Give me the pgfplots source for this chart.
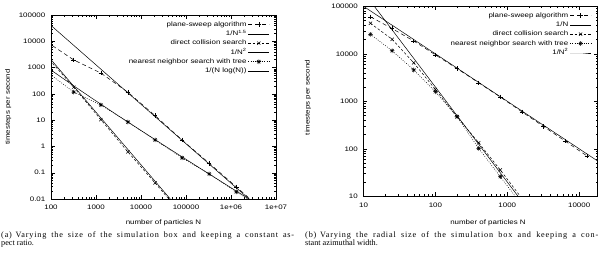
\documentclass[border=0pt]{standalone}
\usepackage{fontspec}
\setmainfont{Liberation Serif}
\newfontfamily\gfont[FakeStretch=1.22]{Liberation Sans}
\newfontfamily\cfont{Liberation Serif}
\usepackage{pgfplots}
\pgfplotsset{compat=1.18}
\newcommand{\gf}{\gfont\fontsize{6.5}{7}\selectfont}
\newcommand{\capf}{\cfont\fontsize{8.2}{9}\selectfont}

\pgfdeclareplotmark{gpstar}{%
  \pgfpathmoveto{\pgfqpoint{-\pgfplotmarksize}{0pt}}\pgfpathlineto{\pgfqpoint{\pgfplotmarksize}{0pt}}%
  \pgfpathmoveto{\pgfqpoint{0pt}{-\pgfplotmarksize}}\pgfpathlineto{\pgfqpoint{0pt}{\pgfplotmarksize}}%
  \pgfpathmoveto{\pgfqpoint{-0.707\pgfplotmarksize}{-0.707\pgfplotmarksize}}\pgfpathlineto{\pgfqpoint{0.707\pgfplotmarksize}{0.707\pgfplotmarksize}}%
  \pgfpathmoveto{\pgfqpoint{-0.707\pgfplotmarksize}{0.707\pgfplotmarksize}}\pgfpathlineto{\pgfqpoint{0.707\pgfplotmarksize}{-0.707\pgfplotmarksize}}%
  \pgfusepathqstroke}

\pgfplotsset{
  mygpax/.style={
    scale only axis,
    axis line style={line width=0.5pt, black},
    tick style={line width=0.4pt, black},
    major tick length=4pt, minor tick length=2pt,
    tick label style={font=\gf},
    every x tick label/.append style={anchor=center, yshift=-8.5pt},
    every y tick label/.append style={anchor=east, inner xsep=0pt, xshift=-5.5pt},
    label style={font=\gf},
    clip marker paths=true,
    legend style={draw=none, fill=none, font=\gf, inner sep=0pt, outer sep=0pt,
      row sep=2.8pt,
      nodes={inner ysep=0pt, inner xsep=1.5pt, text height=5pt, text depth=1.5pt},
      at={(axis description cs:1,1)}, anchor=north east},
    legend cell align=right,
    legend plot pos=right,
    legend image code/.code={\draw[mark repeat=2,mark phase=2,##1] plot coordinates {(0pt,0pt) (10.5pt,0pt) (21pt,0pt)};},
  },
}
\tikzset{
  ps/.style={black, line width=0.5pt, dash pattern=on 4pt off 3pt, mark=+, mark size=2.3pt, mark options={solid}},
  dc/.style={black, line width=0.5pt, dash pattern=on 2.5pt off 2pt, mark=x, mark size=2.3pt, mark options={solid}},
  nt/.style={black, line width=0.5pt, dash pattern=on 0.8pt off 1.5pt, mark=gpstar, mark size=2.3pt, mark options={solid}},
  fitl/.style={black, line width=0.5pt, solid},
}

\begin{document}
\begin{tikzpicture}[x=1pt,y=1pt]
\path[use as bounding box] (0,0) rectangle (600,253);

% ---------------- left panel ----------------
\begin{axis}[mygpax, xmode=log, ymode=log,
  at={(51pt,54pt)}, anchor=south west, width=225pt, height=184pt,
  xmin=100, xmax=1e7, ymin=0.01, ymax=1e5,
  xtick={1e2,1e3,1e4,1e5,1e6,1e7},
  xticklabels={100,1000,10000,100000,1e+06,1e+07},
  ytick={1e-2,1e-1,1,1e1,1e2,1e3,1e4,1e5},
  yticklabels={0.01,0.1,1,10,100,1000,10000,100000},
  minor xtick={2e2,3e2,4e2,5e2,6e2,7e2,8e2,9e2,2e3,3e3,4e3,5e3,6e3,7e3,8e3,9e3,2e4,3e4,4e4,5e4,6e4,7e4,8e4,9e4,2e5,3e5,4e5,5e5,6e5,7e5,8e5,9e5,2e6,3e6,4e6,5e6,6e6,7e6,8e6,9e6},
  minor ytick={2e-2,3e-2,4e-2,5e-2,6e-2,7e-2,8e-2,9e-2,2e-1,3e-1,4e-1,5e-1,6e-1,7e-1,8e-1,9e-1,2,3,4,5,6,7,8,9,2e1,3e1,4e1,5e1,6e1,7e1,8e1,9e1,2e2,3e2,4e2,5e2,6e2,7e2,8e2,9e2,2e3,3e3,4e3,5e3,6e3,7e3,8e3,9e3,2e4,3e4,4e4,5e4,6e4,7e4,8e4,9e4},
  xlabel={number of particles N},
  ylabel={timesteps per second},
  xlabel style={at={(axis description cs:0.5,-0.128)}, anchor=center},
  ylabel style={at={(axis description cs:-0.19,0.5)}, anchor=center},
  legend style={xshift=-6.5pt, yshift=-6.3pt},
]
\addplot[ps] coordinates {(80,9500) (320,1950) (1280,620) (5120,115) (20480,15) (81920,1.75) (327680,0.23) (1310720,0.029) (5242880,0.0036)};
\addlegendentry{plane-sweep algorithm}
\addplot[fitl] coordinates {(100,40000) (3000000,0.0077)};
\addlegendentry{1/N\textsuperscript{1.5}}
\addplot[dc] coordinates {(80,2600) (320,180) (1280,10.5) (5120,0.62) (20480,0.041) (81920,0.0026)};
\addlegendentry{direct collision search}
\addplot[fitl] coordinates {(100,2000) (50000,0.008)};
\addlegendentry{1/N\textsuperscript{2}}
\addplot[nt] coordinates {(80,690) (320,117) (1280,38) (5120,8.5) (20480,1.77) (81920,0.366) (327680,0.09) (1310720,0.0186) (5242880,0.0043)};
\addlegendentry{nearest neighbor search with tree}
\addplot[fitl] coordinates {(100,805) (316,204) (1000,53.7) (3162,14.5) (10000,4.03) (31623,1.131) (100000,0.322) (316228,0.0926) (1000000,0.0268) (3162278,0.00784)};
\addlegendentry{1/(N log(N))}
\end{axis}

% ---------------- right panel ----------------
\begin{axis}[mygpax, xmode=log, ymode=log,
  at={(363.5pt,56.7pt)}, anchor=south west, width=234pt, height=190pt,
  xmin=10, xmax=18000, ymin=10, ymax=1e5,
  xtick={1e1,1e2,1e3,1e4},
  xticklabels={10,100,1000,10000},
  ytick={1e1,1e2,1e3,1e4,1e5},
  yticklabels={10,100,1000,10000,100000},
  minor xtick={2e1,3e1,4e1,5e1,6e1,7e1,8e1,9e1,2e2,3e2,4e2,5e2,6e2,7e2,8e2,9e2,2e3,3e3,4e3,5e3,6e3,7e3,8e3,9e3},
  minor ytick={2e1,3e1,4e1,5e1,6e1,7e1,8e1,9e1,2e2,3e2,4e2,5e2,6e2,7e2,8e2,9e2,2e3,3e3,4e3,5e3,6e3,7e3,8e3,9e3,2e4,3e4,4e4,5e4,6e4,7e4,8e4,9e4},
  xlabel={number of particles N},
  ylabel={timesteps per second},
  xlabel style={at={(axis description cs:0.532,-0.138)}, anchor=center},
  ylabel style={at={(axis description cs:-0.237,0.52)}, anchor=center},
  legend style={xshift=-6.2pt, yshift=-6pt},
]
\addplot[ps] coordinates {(12.5,60000) (25,34000) (50,18600) (100,9500) (200,4900) (400,2450) (800,1230) (1600,600) (3200,295) (6400,145) (12800,71)};
\addlegendentry{plane-sweep algorithm}
\addplot[fitl] coordinates {(10,100000) (18000,55.6)};
\addlegendentry{1/N}
\addplot[dc] coordinates {(12.5,43900) (25,20200) (50,6450) (100,1780) (200,474) (400,134) (800,35.8) (1600,9)};
\addlegendentry{direct collision search}
\addplot[nt] coordinates {(12.5,25700) (25,11600) (50,4570) (100,1590) (200,474) (400,102) (800,25.9) (1600,6.5)};
\addlegendentry{nearest neighbor search with tree}
\addplot[fitl] coordinates {(10,200000) (2000,5)};
\addlegendentry{1/N\textsuperscript{2}}
\end{axis}

% ---------------- captions ----------------
\node[anchor=base west, inner sep=0pt, font=\capf] at (1,15.7) {\makebox[293pt][s]{\addfontfeature{LetterSpace=10}(a)\hspace{0.45em}Varying the size of the simulation box and keeping a constant as-}};
\node[anchor=base west, inner sep=0pt, font=\capf] at (1,7.7) {pect ratio.};
\node[anchor=base west, inner sep=0pt, font=\capf] at (305,15.7) {\makebox[293pt][s]{\addfontfeature{LetterSpace=10}(b)\hspace{0.45em}Varying the radial size of the simulation box and keeping a con-}};
\node[anchor=base west, inner sep=0pt, font=\capf] at (305,7.7) {stant azimuthal width.};
\end{tikzpicture}
\end{document}
